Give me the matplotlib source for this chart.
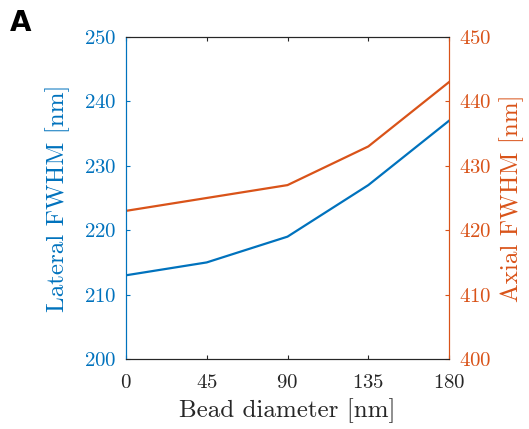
import matplotlib
matplotlib.use('Agg')
import matplotlib.pyplot as plt

plt.rcParams['font.family'] = 'cmr10'
plt.rcParams['mathtext.fontset'] = 'cm'
plt.rcParams['axes.formatter.use_mathtext'] = True

# bead diameter vs FWHM
bead = [0, 45, 90, 135, 180]
lateral = [213, 215, 219, 227, 237]
axial = [423, 425, 427, 433, 443]

blue = '#0072BD'
orange = '#D95319'

fig = plt.figure(figsize=(5.29, 4.29), dpi=100)
ax = fig.add_axes([0.238, 0.163, 0.611, 0.751])
ax2 = ax.twinx()

ax.plot(bead, lateral, color=blue, lw=1.6)
ax2.plot(bead, axial, color=orange, lw=1.6)

ax.set_xlim(0, 180)
ax.set_ylim(200, 250)
ax2.set_ylim(400, 450)
ax.set_xticks(bead)
ax.set_yticks([200, 210, 220, 230, 240, 250])
ax2.set_yticks([400, 410, 420, 430, 440, 450])

ax.set_xlabel('Bead diameter [nm]', fontsize=18, color='#262626', labelpad=4)
ax.set_ylabel('Lateral FWHM [nm]', fontsize=18, color=blue, labelpad=10)
ax2.set_ylabel('Axial FWHM [nm]', fontsize=18, color=orange, labelpad=6)

ax.tick_params(axis='x', direction='in', top=True, labelsize=15, colors='#262626', length=3, pad=11)
ax.tick_params(axis='y', direction='in', labelsize=15, colors=blue, length=3, pad=7)
ax2.tick_params(axis='y', direction='in', labelsize=15, colors=orange, length=3, pad=7)

for a in (ax, ax2):
    a.spines['top'].set_color('#262626')
    a.spines['bottom'].set_color('#262626')
    a.spines['left'].set_color(blue)
    a.spines['right'].set_color(orange)
    for s in a.spines.values():
        s.set_linewidth(0.8)

fig.text(0.019, 0.978, 'A', fontsize=20, fontweight='bold', family='DejaVu Sans', va='top', ha='left')

fig.savefig('out.png', dpi=100)
